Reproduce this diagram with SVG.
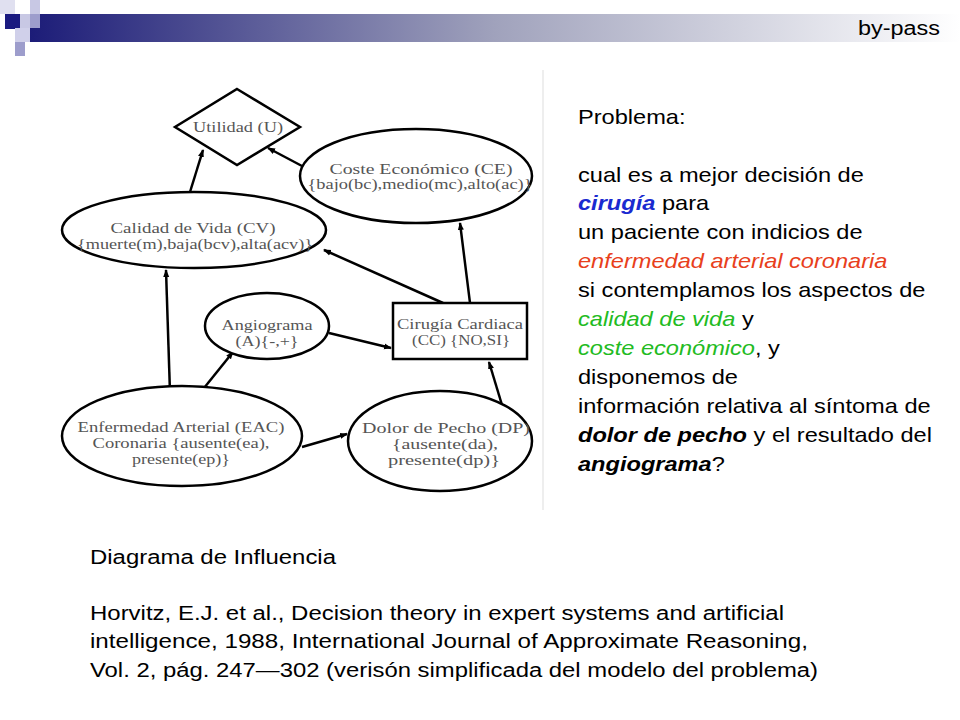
<svg xmlns="http://www.w3.org/2000/svg" width="960" height="720" viewBox="0 0 960 720">
<defs>
<linearGradient id="g" x1="0" x2="1" y1="0" y2="0"><stop offset="0" stop-color="#1c1c78"/><stop offset="0.5" stop-color="#a0a2bc"/><stop offset="1" stop-color="#ffffff"/></linearGradient>
<marker id="ah" markerWidth="8" markerHeight="8" refX="7" refY="4" orient="auto" markerUnits="userSpaceOnUse"><path d="M0,1 L8,4 L0,7 z" fill="#000"/></marker>
<style>
.n{fill:#fff;stroke:#000;stroke-width:2.5}
.l{font-family:"Liberation Serif",serif;font-size:14px;fill:#555;text-anchor:middle}
.t{font-family:"Liberation Sans",Arial,sans-serif;font-size:20px;fill:#000}
.c line{stroke:#000;stroke-width:2.5;marker-end:url(#ah)}
</style>
</defs>
<rect width="960" height="720" fill="#fff"/>
<g id="header">
<rect x="30" y="14" width="930" height="28" fill="url(#g)"/>
<rect x="0" y="0" width="15" height="14" fill="#e0e0f0"/>
<rect x="30" y="0" width="10" height="14" fill="#c8c8e4"/>
<rect x="5" y="14" width="15" height="15" fill="#1a1a80"/>
<rect x="20" y="14" width="10" height="14" fill="#c8c8e4"/>
<rect x="30" y="14" width="10" height="14" fill="#9d9dcc"/>
<rect x="15" y="28" width="15" height="14" fill="#d0d0ea"/>
<rect x="15" y="42" width="10" height="14" fill="#9d9dcc"/>
<text x="940" y="35" class="t" text-anchor="end" textLength="82" lengthAdjust="spacingAndGlyphs">by-pass</text>
</g>
<line x1="543" y1="70" x2="543" y2="510" stroke="#ddd" stroke-width="1"/>
<g class="c" id="connectors">
<line x1="190" y1="192" x2="203" y2="150"/>
<line x1="302" y1="166" x2="268" y2="148"/>
<line x1="470" y1="303" x2="460" y2="223"/>
<line x1="443" y1="303" x2="324" y2="250"/>
<line x1="170" y1="393" x2="166" y2="270"/>
<line x1="200" y1="393" x2="233" y2="352"/>
<line x1="329" y1="333" x2="391" y2="348"/>
<line x1="302" y1="447" x2="347" y2="434"/>
<line x1="502" y1="405" x2="489" y2="362"/>
</g>
<g id="U"><polygon class="n" points="237,89 300,127 237,165 175,127"/><text class="l" x="238" y="132" textLength="90" lengthAdjust="spacingAndGlyphs">Utilidad (U)</text></g>
<g id="CE"><ellipse class="n" cx="416" cy="176" rx="116" ry="47"/><text class="l" x="421" y="174" textLength="183" lengthAdjust="spacingAndGlyphs">Coste Económico (CE)</text><text class="l" x="420" y="189" textLength="225" lengthAdjust="spacingAndGlyphs">{bajo(bc),medio(mc),alto(ac)}</text></g>
<g id="CV"><ellipse class="n" cx="194" cy="230" rx="132" ry="38"/><text class="l" x="193" y="233" textLength="165" lengthAdjust="spacingAndGlyphs">Calidad de Vida (CV)</text><text class="l" x="195" y="249" textLength="236" lengthAdjust="spacingAndGlyphs">{muerte(m),baja(bcv),alta(acv)}</text></g>
<g id="A"><ellipse class="n" cx="267" cy="326" rx="62" ry="33"/><text class="l" x="267" y="330" textLength="91" lengthAdjust="spacingAndGlyphs">Angiograma</text><text class="l" x="267" y="346" textLength="63" lengthAdjust="spacingAndGlyphs">(A){-,+}</text></g>
<g id="CC"><rect class="n" x="393" y="303" width="134" height="56" stroke-width="3"/><text class="l" x="460" y="329" textLength="126" lengthAdjust="spacingAndGlyphs">Cirugía Cardiaca</text><text class="l" x="461" y="345" textLength="98" lengthAdjust="spacingAndGlyphs">(CC) {NO,SI}</text></g>
<g id="EAC"><ellipse class="n" cx="182" cy="436" rx="120" ry="50"/><text class="l" x="181" y="432" textLength="207" lengthAdjust="spacingAndGlyphs">Enfermedad Arterial (EAC)</text><text class="l" x="181" y="448" textLength="177" lengthAdjust="spacingAndGlyphs">Coronaria {ausente(ea),</text><text class="l" x="181" y="464" textLength="98" lengthAdjust="spacingAndGlyphs">presente(ep)}</text></g>
<g id="DP"><ellipse class="n" cx="440" cy="441" rx="92" ry="50"/><text class="l" x="446" y="433" textLength="168" lengthAdjust="spacingAndGlyphs">Dolor de Pecho (DP)</text><text class="l" x="445" y="449" textLength="106" lengthAdjust="spacingAndGlyphs">{ausente(da),</text><text class="l" x="444" y="465" textLength="112" lengthAdjust="spacingAndGlyphs">presente(dp)}</text></g>
<g id="problem" class="t" transform="translate(578,0) scale(1.18,1)">
<text x="0" y="124">Problema:</text>
<text x="0" y="182">cual es a mejor decisión de</text>
<text x="0" y="210"><tspan fill="#1a2ad0" font-weight="bold" font-style="italic">cirugía</tspan> para</text>
<text x="0" y="239">un paciente con indicios de</text>
<text x="0" y="268" fill="#e8401c" font-style="italic">enfermedad arterial coronaria</text>
<text x="0" y="297">si contemplamos los aspectos de</text>
<text x="0" y="326"><tspan fill="#22bb22" font-style="italic">calidad de vida</tspan> y</text>
<text x="0" y="355"><tspan fill="#22bb22" font-style="italic">coste económico</tspan>, y</text>
<text x="0" y="384">disponemos de</text>
<text x="0" y="413">información relativa al síntoma de</text>
<text x="0" y="442"><tspan font-weight="bold" font-style="italic">dolor de pecho</tspan> y el resultado del</text>
<text x="0" y="471"><tspan font-weight="bold" font-style="italic">angiograma</tspan>?</text>
</g>
<g id="caption" class="t">
<text x="90" y="564" textLength="246" lengthAdjust="spacingAndGlyphs">Diagrama de Influencia</text>
<text x="90" y="620" textLength="694" lengthAdjust="spacingAndGlyphs">Horvitz, E.J. et al., Decision theory in expert systems and artificial</text>
<text x="90" y="648" textLength="718" lengthAdjust="spacingAndGlyphs">intelligence, 1988, International Journal of Approximate Reasoning,</text>
<text x="90" y="677" textLength="728" lengthAdjust="spacingAndGlyphs">Vol. 2, pág. 247—302 (verisón simplificada del modelo del problema)</text>
</g>
</svg>
